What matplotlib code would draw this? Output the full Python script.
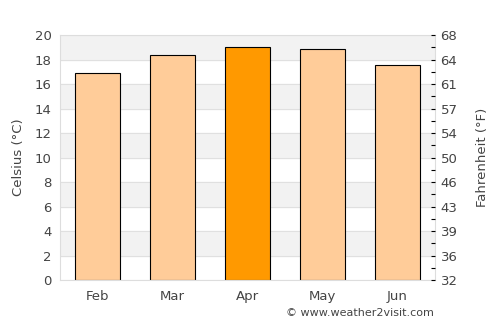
import numpy as np
import matplotlib.pyplot as plt

months = ['Feb', 'Mar', 'Apr', 'May', 'Jun']
celsius = [16.9, 18.35, 19.0, 18.9, 17.6]
colors = ['#ffcc99', '#ffcc99', '#ff9900', '#ffcc99', '#ffcc99']

c_ticks = np.arange(0, 21, 2)
f_labels = [str(int(round(c * 9 / 5 + 32))) for c in c_ticks]

txt = '#444444'
fig = plt.figure(figsize=(5, 3.25), dpi=100)
ax = fig.add_axes([0.12, 0.138, 0.75, 0.754])

# alternating background bands
for lo in range(2, 20, 4):
    ax.axhspan(lo, lo + 2, color='#f2f2f2', zorder=0)
for y in c_ticks:
    ax.axhline(y, color='#e0e0e0', lw=0.8, zorder=0.5)

x = np.arange(len(months))
ax.bar(x, celsius, width=0.6, color=colors, edgecolor='black', linewidth=0.8, zorder=2)

ax.set_xlim(-0.5, len(months) - 0.5)
ax.set_ylim(0, 20)
ax.set_yticks(c_ticks)
ax.set_xticks(x)
ax.set_xticklabels(months)
ax.tick_params(axis='both', colors=txt, labelsize=9.5, length=0, pad=6)
ax.tick_params(axis='x', pad=7)
ax.set_ylabel('Celsius (°C)', color=txt, fontsize=9.5, labelpad=7)
for s in ax.spines.values():
    s.set_color('#dddddd')

ax2 = ax.twinx()
ax2.set_ylim(0, 20)
ax2.set_yticks(c_ticks)
ax2.set_yticklabels(f_labels)
ax2.set_yticks(np.arange(1, 20, 2), minor=True)
ax2.tick_params(axis='y', which='both', colors=txt, labelsize=9.5, length=3, width=0.8,
                pad=4, direction='in')
ax2.tick_params(axis='y', which='both', color='black')
ax2.set_ylabel('Fahrenheit (°F)', color=txt, fontsize=9.5, labelpad=13)
for s in ax2.spines.values():
    s.set_visible(False)

fig.text(0.868, 0.02, '© www.weather2visit.com', ha='right', va='bottom', color=txt, fontsize=8)

fig.savefig('out.png', dpi=100)
